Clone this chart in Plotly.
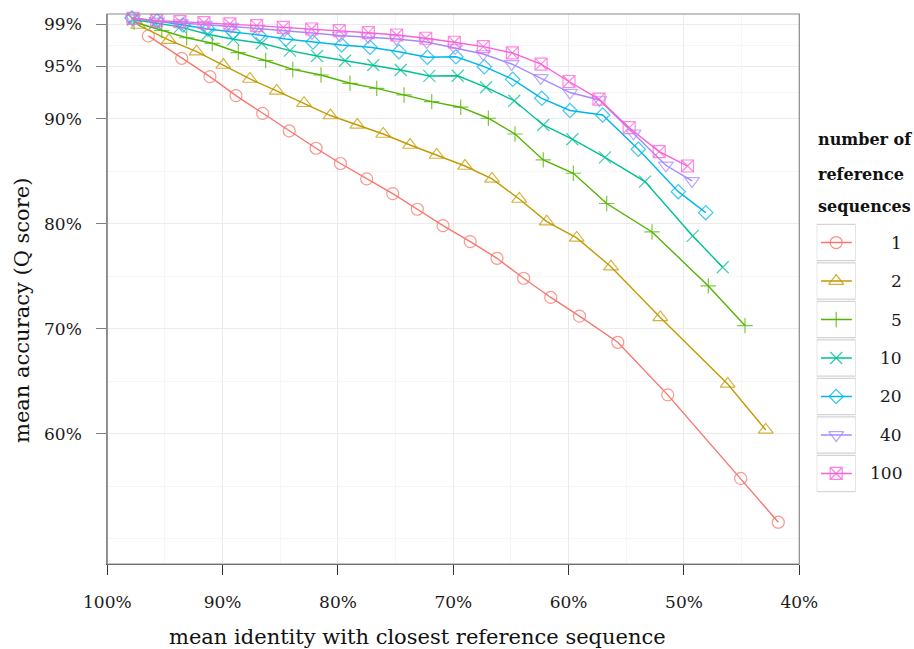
import plotly.graph_objects as go

# mean identity with closest reference (%) and mean accuracy (%) per reference-set size
ref_counts = ["1", "2", "5", "10", "20", "40", "100"]

ident_1 = [96.44, 93.55, 91.10, 88.84, 86.53, 84.22, 81.90, 79.78, 77.51, 75.25, 73.12,
           70.89, 68.53, 66.21, 63.90, 61.55, 59.06, 55.74, 51.41, 45.08, 41.82]
acc_1 = [97.89, 95.76, 94.01, 92.20, 90.52, 88.84, 87.19, 85.74, 84.27, 82.87, 81.38,
         79.82, 78.30, 76.71, 74.81, 72.98, 71.20, 68.71, 63.70, 55.74, 51.57]

ident_2 = [97.31, 94.65, 92.25, 89.94, 87.63, 85.31, 82.94, 80.65, 78.32, 76.07, 73.75,
           71.44, 68.98, 66.64, 64.28, 61.90, 59.30, 56.33, 52.05, 46.21, 42.91]
acc_2 = [98.93, 97.50, 96.39, 95.12, 93.79, 92.65, 91.48, 90.31, 89.41, 88.55, 87.50,
         86.55, 85.50, 84.27, 82.36, 80.20, 78.65, 75.91, 71.08, 64.74, 60.36]

ident_5 = [97.68, 95.28, 93.12, 90.90, 88.64, 86.27, 83.92, 81.47, 78.96, 76.64, 74.27,
           71.87, 69.36, 66.96, 64.65, 62.20, 59.59, 56.70, 52.77, 47.89, 44.71]
acc_5 = [99.22, 98.41, 97.72, 97.19, 96.31, 95.55, 94.70, 94.17, 93.38, 92.90, 92.27,
         91.63, 91.10, 90.05, 88.55, 86.08, 84.81, 81.93, 79.22, 74.08, 70.30]

ident_10 = [97.77, 95.86, 93.70, 91.30, 89.07, 86.61, 84.16, 81.82, 79.39, 76.94, 74.56,
            72.08, 69.62, 67.16, 64.71, 62.20, 59.68, 56.85, 53.38, 49.24, 46.64]
acc_10 = [99.46, 99.10, 98.75, 98.05, 97.57, 97.19, 96.49, 95.98, 95.53, 95.12, 94.65,
          94.08, 94.10, 93.00, 91.72, 89.41, 88.05, 86.33, 84.01, 78.84, 75.86]

ident_20 = [97.86, 95.69, 93.44, 91.27, 89.10, 86.85, 84.51, 82.17, 79.68, 77.22, 74.71,
            72.25, 69.77, 67.31, 64.85, 62.33, 59.88, 57.05, 53.96, 50.49, 48.11]
acc_20 = [99.60, 99.31, 98.93, 98.55, 98.27, 97.98, 97.60, 97.31, 97.03, 96.81, 96.39,
          95.86, 95.91, 94.96, 93.76, 91.95, 90.79, 90.36, 87.10, 83.06, 81.06]

ident_40 = [97.77, 95.69, 93.61, 91.53, 89.27, 86.98, 84.64, 82.25, 79.82, 77.37, 74.91,
            72.31, 69.85, 67.40, 64.94, 62.42, 59.88, 57.34, 54.38, 51.57, 49.30]
acc_40 = [99.55, 99.27, 99.12, 98.98, 98.79, 98.60, 98.41, 98.17, 97.93, 97.79, 97.60,
          97.31, 96.74, 96.17, 95.22, 93.89, 92.50, 91.79, 88.62, 85.57, 84.08]

ident_100 = [97.77, 95.72, 93.70, 91.62, 89.37, 87.05, 84.74, 82.28, 79.89, 77.37, 74.91,
             72.39, 69.91, 67.40, 64.88, 62.39, 59.97, 57.37, 54.75, 52.15, 49.69]
acc_100 = [99.57, 99.34, 99.25, 99.15, 99.03, 98.87, 98.71, 98.55, 98.39, 98.20, 97.98,
           97.67, 97.29, 96.87, 96.27, 95.20, 93.55, 91.87, 89.15, 86.87, 85.50]

x_ticks = [100, 90, 80, 70, 60, 50, 40]
y_ticks = [60, 70, 80, 90, 95, 99]
y_minor = [50, 55, 65, 75, 85, 92.5, 97]
x_minor = [95, 85, 75, 65, 55, 45]

colors = ["#F8766D", "#C49A00", "#53B400", "#00C094", "#00B6EB", "#A58AFF", "#FB61D7"]
symbols = ["circle-open", "triangle-up-open", "cross-thin-open", "x-thin-open",
           "diamond-open", "triangle-down-open", "square-x-open"]
sizes = [12, 13, 11, 12, 11, 13, 12]

series = [(ident_1, acc_1), (ident_2, acc_2), (ident_5, acc_5), (ident_10, acc_10),
          (ident_20, acc_20), (ident_40, acc_40), (ident_100, acc_100)]

W, H = 914, 649
FONT = "DejaVu Serif"

def px_x(p):
    return p / W

def px_y(p):
    return 1 - p / H

fig = go.Figure()

for name, (xs, ys), col, sym, sz in zip(ref_counts, series, colors, symbols, sizes):
    fig.add_trace(go.Scatter(
        x=xs, y=ys, mode="lines+markers", name=name, showlegend=False,
        line=dict(color=col, width=1.4),
        marker=dict(symbol=sym, size=sz, color=col, opacity=0.75,
                    line=dict(color=col, width=1.2)),
        xaxis="x", yaxis="y", cliponaxis=False,
    ))

# legend keys drawn on a small helper axis pair
for i, (name, col, sym, sz) in enumerate(zip(ref_counts, colors, symbols, sizes)):
    fig.add_trace(go.Scatter(
        x=[0.11, 0.5, 0.9], y=[i, i, i], mode="lines+markers", showlegend=False,
        line=dict(color=col, width=1.4),
        marker=dict(symbol=sym, size=[0, sz, 0], color=col, opacity=0.8,
                    line=dict(color=col, width=1.2)),
        xaxis="x2", yaxis="y2", hoverinfo="skip",
    ))

shapes = [
    dict(type="rect", xref="x domain", yref="y domain", x0=0, x1=1, y0=0, y1=1,
         line=dict(color="#8a8a8a", width=1.2), layer="above"),
]
for i in range(len(ref_counts)):
    shapes.append(dict(type="rect", xref="x2", yref="y2", x0=0, x1=1,
                       y0=i - 0.47, y1=i + 0.47,
                       line=dict(color="#d4d4d4", width=1.2), layer="below"))

annotations = [
    dict(text="mean identity with closest reference sequence", xref="paper", yref="paper",
         x=px_x(417), y=px_y(637), xanchor="center", yanchor="middle", showarrow=False,
         font=dict(family=FONT, size=21, color="#111111")),
    dict(text="mean accuracy (Q score)", xref="paper", yref="paper",
         x=px_x(22), y=px_y(311), xanchor="center", yanchor="middle", showarrow=False,
         textangle=-90, font=dict(family=FONT, size=21, color="#111111")),
]
for line_txt, yc in zip(["number of", "reference", "sequences"], [140, 174, 207]):
    annotations.append(dict(text="<b>" + line_txt + "</b>", xref="paper", yref="paper",
                            x=px_x(816), y=px_y(yc), xanchor="left", yanchor="middle",
                            showarrow=False,
                            font=dict(family=FONT, size=16, color="#111111")))
for i, name in enumerate(ref_counts):
    annotations.append(dict(text=name, xref="paper", yref="y2", x=px_x(904), y=i,
                            xanchor="right", yanchor="middle", showarrow=False,
                            font=dict(family=FONT, size=17, color="#1a1a1a")))

fig.update_layout(
    template="none",
    width=W, height=H,
    margin=dict(l=0, r=0, t=0, b=0),
    paper_bgcolor="white", plot_bgcolor="white",
    showlegend=False,
    font=dict(family=FONT, color="#1a1a1a"),
    xaxis=dict(
        domain=[px_x(107.3), px_x(799.3)], anchor="y",
        range=[100, 40], tickvals=x_ticks, ticktext=[f"{v}%" for v in x_ticks],
        ticks="outside", ticklen=10, tickwidth=1, tickcolor="#333333",
        showline=True, linecolor="#555555", linewidth=1.2,
        showgrid=True, gridcolor="#EBEBEB", gridwidth=1.1, zeroline=False,
        minor=dict(tickvals=x_minor, showgrid=True, gridcolor="#F5F5F5", gridwidth=1, ticks=""),
        tickfont=dict(family=FONT, size=17, color="#1a1a1a"),
        ticklabelstandoff=12,
    ),
    yaxis=dict(
        domain=[px_y(564), px_y(14)], anchor="x",
        range=[47.59, 99.98], tickvals=y_ticks, ticktext=[f"{v}%" for v in y_ticks],
        ticks="outside", ticklen=10, tickwidth=1, tickcolor="#7f7f7f",
        showline=True, linecolor="#8a8a8a", linewidth=1.2,
        showgrid=True, gridcolor="#EBEBEB", gridwidth=1.1, zeroline=False,
        minor=dict(tickvals=y_minor, showgrid=True, gridcolor="#F5F5F5", gridwidth=1, ticks=""),
        tickfont=dict(family=FONT, size=17, color="#1a1a1a"),
        ticklabelstandoff=11,
    ),
    xaxis2=dict(domain=[px_x(816.7), px_x(855.7)], anchor="y2", range=[0, 1],
                visible=False, fixedrange=True),
    yaxis2=dict(domain=[px_y(492.7), px_y(223.3)], anchor="x2", range=[6.5, -0.5],
                visible=False, fixedrange=True),
    shapes=shapes,
    annotations=annotations,
)

fig.write_html("out.html")
